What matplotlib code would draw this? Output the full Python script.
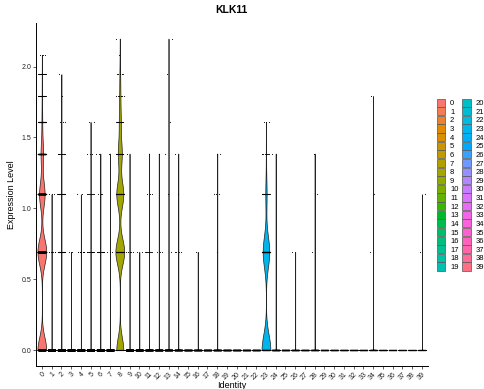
import numpy as np
import matplotlib
matplotlib.use("Agg")
import matplotlib.pyplot as plt
from matplotlib.patches import Patch

plt.rcParams['font.family'] = ['Liberation Sans', 'DejaVu Sans']

# expression levels present in the data (log-normalised counts)
levels = [0.0, 0.693, 1.099, 1.386, 1.609, 1.792, 1.946, 2.079, 2.197]

# cells per cluster at each of the levels above
counts = [
    [1400, 1400, 880, 400, 110, 40, 20, 4, 0],   # 0
    [2600, 6, 3, 0, 0, 0, 0, 0, 0],              # 1
    [2400, 40, 25, 15, 3, 1, 1, 0, 0],           # 2
    [2200, 2, 0, 0, 0, 0, 0, 0, 0],              # 3
    [2100, 10, 2, 0, 0, 0, 0, 0, 0],             # 4
    [2000, 12, 8, 3, 2, 0, 0, 0, 0],             # 5
    [1900, 15, 3, 2, 0, 0, 0, 0, 0],             # 6
    [1800, 3, 0, 1, 0, 0, 0, 0, 0],              # 7
    [62, 78, 62, 35, 16, 8, 5, 1, 1],            # 8
    [1500, 5, 0, 1, 0, 0, 0, 0, 0],              # 9
    [1400, 2, 0, 0, 0, 0, 0, 0, 0],              # 10
    [1300, 10, 3, 1, 0, 0, 0, 0, 0],             # 11
    [1200, 3, 0, 1, 0, 0, 0, 0, 0],              # 12
    [1100, 1, 1, 1, 1, 0, 1, 0, 1],              # 13
    [1000, 4, 1, 1, 0, 0, 0, 0, 0],              # 14
    [950, 0, 0, 0, 0, 0, 0, 0, 0],               # 15
    [900, 1, 0, 0, 0, 0, 0, 0, 0],               # 16
    [850, 0, 0, 0, 0, 0, 0, 0, 0],               # 17
    [800, 1, 3, 2, 0, 0, 0, 0, 0],               # 18
    [750, 0, 0, 0, 0, 0, 0, 0, 0],               # 19
    [700, 0, 0, 0, 0, 0, 0, 0, 0],               # 20
    [650, 0, 0, 0, 0, 0, 0, 0, 0],               # 21
    [600, 0, 0, 0, 0, 0, 0, 0, 0],               # 22
    [250, 187, 37, 7, 3, 0, 0, 0, 0],            # 23
    [500, 0, 0, 1, 0, 0, 0, 0, 0],               # 24
    [480, 0, 0, 0, 0, 0, 0, 0, 0],               # 25
    [450, 1, 0, 0, 0, 0, 0, 0, 0],               # 26
    [420, 0, 0, 0, 0, 0, 0, 0, 0],               # 27
    [400, 1, 1, 1, 0, 0, 0, 0, 0],               # 28
    [380, 0, 0, 0, 0, 0, 0, 0, 0],               # 29
    [360, 0, 0, 0, 0, 0, 0, 0, 0],               # 30
    [340, 0, 0, 0, 0, 0, 0, 0, 0],               # 31
    [320, 0, 0, 0, 0, 0, 0, 0, 0],               # 32
    [300, 0, 0, 0, 0, 0, 0, 0, 0],               # 33
    [280, 1, 1, 0, 0, 1, 0, 0, 0],               # 34
    [260, 0, 0, 0, 0, 0, 0, 0, 0],               # 35
    [240, 0, 0, 0, 0, 0, 0, 0, 0],               # 36
    [220, 0, 0, 0, 0, 0, 0, 0, 0],               # 37
    [200, 0, 0, 0, 0, 0, 0, 0, 0],               # 38
    [180, 1, 1, 0, 0, 0, 0, 0, 0],               # 39
]
clusters = [str(i) for i in range(40)]

feature = "KLK11"


def hue_pal(n, l=65.0, c=100.0):
    # ggplot2 default discrete palette (HCL hues 15..375)
    hues = 15 + 360.0 * np.arange(n) / n
    xn, yn, zn = 95.047, 100.0, 108.883
    un = 4 * xn / (xn + 15 * yn + 3 * zn)
    vn = 9 * yn / (xn + 15 * yn + 3 * zn)
    out = []
    for h in hues:
        u = c * np.cos(np.radians(h))
        v = c * np.sin(np.radians(h))
        y = yn * ((l + 16) / 116.0) ** 3
        up = u / (13 * l) + un
        vp = v / (13 * l) + vn
        x = 9.0 * y * up / (4 * vp)
        z = -x / 3.0 - 5 * y + 3 * y / vp
        m = np.array([[3.240479, -1.537150, -0.498535],
                      [-0.969256, 1.875992, 0.041556],
                      [0.055648, -0.204043, 1.057311]])
        rgb = m @ (np.array([x, y, z]) / 100.0)
        rgb = np.where(rgb <= 0.0031308, 12.92 * rgb, 1.055 * np.abs(rgb) ** (1 / 2.4) - 0.055)
        out.append(tuple(np.clip(rgb, 0, 1)))
    return out


def nrd0_factor(kde):
    # R's bw.nrd0, expressed as a factor of the sample sd
    x = np.asarray(kde.dataset).ravel()
    sd = x.std(ddof=1)
    q25, q75 = np.percentile(x, [25, 75])
    lo = min(sd, (q75 - q25) / 1.34)
    if lo == 0:
        lo = 1e-5  # Seurat jitters values by ~1e-5, so zero-inflated clusters get a tiny bandwidth
    return 0.9 * lo * len(x) ** -0.2 / sd


colors = hue_pal(len(clusters))

fig = plt.figure(figsize=(4.85, 3.89), dpi=100)
W, H = 485.0, 389.0
ax = fig.add_axes([36 / W, 1 - 365.6 / H, (427.7 - 36) / W, (365.6 - 23) / H])

golden = 0.6180339887
for i, cl in enumerate(clusters):
    vals = np.repeat(levels, counts[i])
    if vals.max() > 0:
        parts = ax.violinplot([vals], positions=[i], widths=0.9, showextrema=False,
                              bw_method=nrd0_factor, points=512)
        for b in parts['bodies']:
            b.set_facecolor(colors[i])
            b.set_edgecolor('#222222')
            b.set_linewidth(0.5)
            b.set_alpha(1)
            b.set_zorder(2)
    k = np.arange(len(vals))
    off = ((k * golden) % 1.0 - 0.5) * 0.8
    ax.scatter(i + off, vals, s=0.6, c='black', linewidths=0, zorder=3)

ax.set_xlim(-0.6, 39.6)
ax.set_ylim(-0.11, 2.307)
ax.set_yticks([0, 0.5, 1.0, 1.5, 2.0])
ax.set_yticklabels(["0.0", "0.5", "1.0", "1.5", "2.0"])
ax.set_xticks(range(len(clusters)))
ax.set_xticklabels(clusters, rotation=45, ha='right', va='top', rotation_mode='anchor')
ax.tick_params(labelsize=5, length=2, width=0.5, colors='#222222', pad=1.5)
for s in ['top', 'right']:
    ax.spines[s].set_visible(False)
for s in ['left', 'bottom']:
    ax.spines[s].set_linewidth(0.7)
ax.set_ylabel("Expression Level", fontsize=6.5, labelpad=4)
ax.set_xlabel("Identity", fontsize=6.5, labelpad=0)
ax.set_title(feature, fontsize=7.5, fontweight='bold', pad=7)

handles = [Patch(facecolor=colors[i], edgecolor='#555555', linewidth=0.5, label=cl)
           for i, cl in enumerate(clusters)]
fig.legend(handles=handles, loc='upper left', bbox_to_anchor=(436.7 / W, 1 - 98.5 / H),
           ncol=2, frameon=False, fontsize=5.5, handlelength=1.14, handleheight=1.26,
           labelspacing=0.0, handletextpad=0.6, columnspacing=0.45,
           borderpad=0, borderaxespad=0)

fig.savefig("out.png", dpi=100)
